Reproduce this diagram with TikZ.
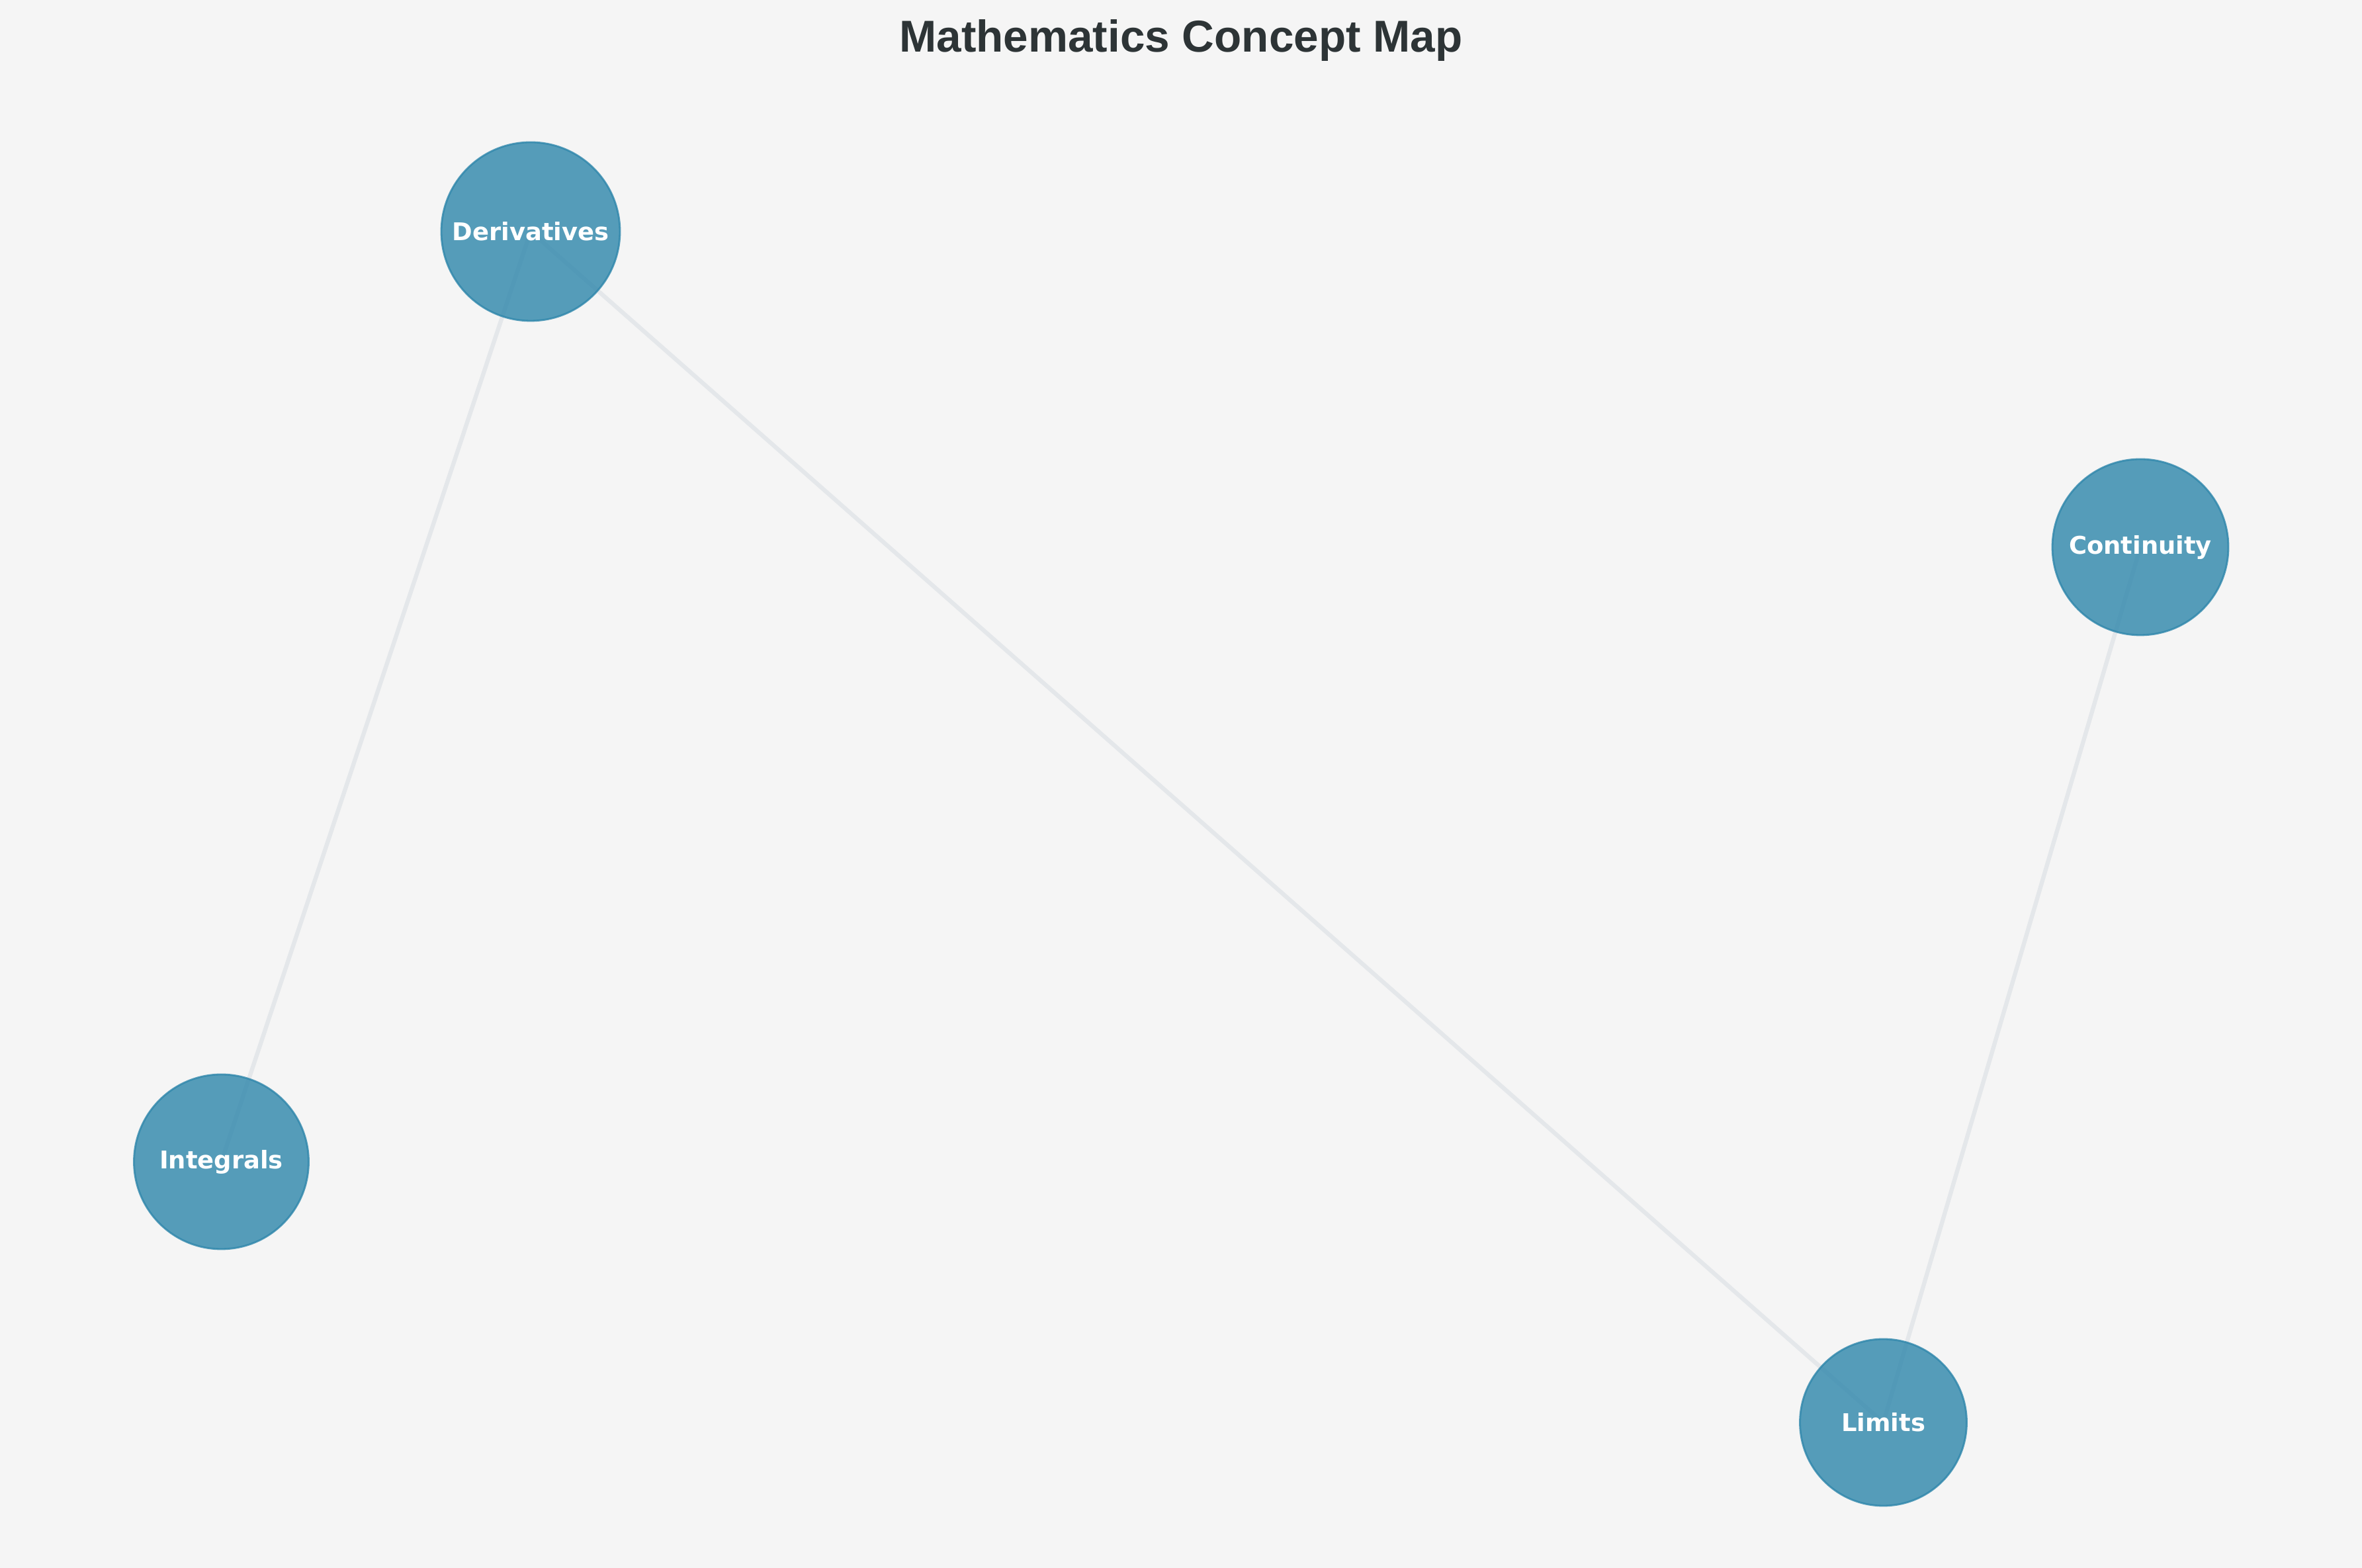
\documentclass[tikz,border=0pt]{standalone}
\usepackage{fontspec}
\usepackage{tikz}
\usetikzlibrary{positioning}
\usepackage{xcolor}
\definecolor{paper}{HTML}{F5F5F5}
\definecolor{concept}{HTML}{2E86AB}
\definecolor{link}{HTML}{E4E7EA}
\definecolor{heading}{HTML}{2D3436}
\newfontfamily\headfont{Liberation Sans}
\newfontfamily\conceptfont{DejaVu Sans}
\pgfdeclarelayer{back}
\pgfsetlayers{back,main}

\begin{document}
\begin{tikzpicture}[
  concept/.style={circle,fill=concept,draw=concept,line width=0.8pt,opacity=0.8,text opacity=1,
    text=white,inner sep=0pt,font=\conceptfont\bfseries\fontsize{10.5}{12}\selectfont},
  link/.style={draw=link,line width=1.8pt}]
\begin{pgfonlayer}{back}
\fill[paper] (0,0) rectangle (35.7,23.7);
\end{pgfonlayer}
\useasboundingbox (0,0) rectangle (35.7,23.7);
\node[font=\headfont\bfseries\fontsize{19.2}{22}\selectfont,text=heading,anchor=base] (title) at (17.85,22.91) {Mathematics Concept Map};
\node[concept,minimum size=2.70cm] (deriv) at (8.02,20.20) {Derivatives};
\node[concept,minimum size=2.66cm] (cont) at (32.35,15.43) {Continuity};
\node[concept,minimum size=2.64cm] (integ) at (3.345,6.14) {Integrals};
\node[concept,minimum size=2.52cm] (lim) at (28.465,2.20) {Limits};
\begin{pgfonlayer}{back}
\draw[link] (deriv.center) -- (integ.center);
\draw[link] (deriv.center) -- (lim.center);
\draw[link] (cont.center) -- (lim.center);
\end{pgfonlayer}
\end{tikzpicture}
\end{document}
